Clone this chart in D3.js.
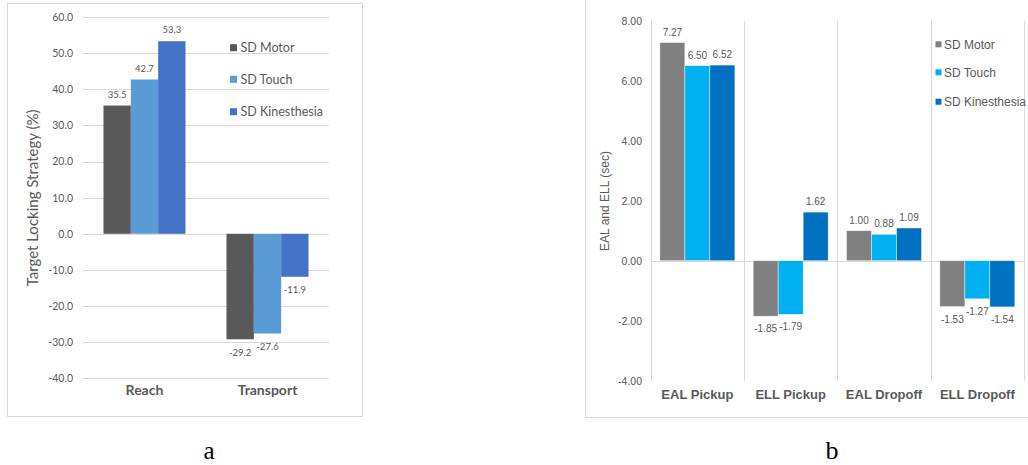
<!DOCTYPE html>
<html>
<head>
<meta charset="utf-8">
<script src="https://cdn.jsdelivr.net/npm/d3@7"></script>
<style>
  html, body { margin: 0; padding: 0; background: #fff; }
  svg { display: block; }
</style>
</head>
<body>
<svg id="chart" width="1028" height="465"></svg>
<script>
// ---------- Data: chart a ----------
const catsA = ["Reach", "Transport"];
const seriesNames = ["SD Motor", "SD Touch", "SD Kinesthesia"];
const motorA = [35.5, -29.2];
const touchA = [42.7, -27.6];
const kinA = [53.3, -11.9];
const ticksA = [60, 50, 40, 30, 20, 10, 0, -10, -20, -30, -40];
const yTitleA = "Target Locking Strategy (%)";

// ---------- Data: chart b ----------
const catsB = ["EAL Pickup", "ELL Pickup", "EAL Dropoff", "ELL Dropoff"];
const motorB = [7.27, -1.85, 1.00, -1.53];
const touchB = [6.50, -1.79, 0.88, -1.27];
const kinB = [6.52, 1.62, 1.09, -1.54];
const ticksB = [8, 6, 4, 2, 0, -2, -4];
const yTitleB = "EAL and ELL (sec)";

const colorsA = ["#595959", "#5B9BD5", "#4472C4"];
const colorsB = ["#808080", "#00B0F0", "#0070C0"];
const textCol = "#595959";
const gridCol = "#d9d9d9";

const fmt1 = v => d3.format(".1f")(v).replace("\u2212", "-");
const fmt2 = v => d3.format(".2f")(v).replace("\u2212", "-");

const svg = d3.select("#chart");

// ================= Chart a =================
(function () {
  const fontA = "Lato, 'Open Sans', sans-serif";
  const g = svg.append("g");
  g.append("rect").attr("x", 7.5).attr("y", 3.5).attr("width", 355).attr("height", 413)
    .attr("fill", "none").attr("stroke", gridCol).attr("stroke-width", 1);

  const y = d3.scaleLinear().domain([-40, 60]).range([378.3, 17]);
  const x = d3.scaleBand().domain(catsA).range([83, 329]).paddingInner(0).paddingOuter(0);
  const xs = d3.scaleBand().domain(seriesNames).range([0, x.bandwidth()]).paddingInner(0).paddingOuter(0.75);

  g.append("g").selectAll("line").data(ticksA).join("line")
    .attr("x1", 83).attr("x2", 329)
    .attr("y1", d => Math.round(y(d)) + 0.5).attr("y2", d => Math.round(y(d)) + 0.5)
    .attr("stroke", gridCol).attr("stroke-width", 1);

  const yAxis = d3.axisLeft(y).tickValues(ticksA).tickSize(0).tickPadding(0).tickFormat(fmt1);
  const ya = g.append("g").attr("transform", "translate(73,0)").call(yAxis);
  ya.select(".domain").remove();
  ya.selectAll("text").attr("fill", textCol).style("font-family", fontA).style("font-size", "10.5px");

  g.append("text").attr("transform", "translate(38,198) rotate(-90)")
    .attr("text-anchor", "middle").attr("fill", textCol)
    .style("font-family", fontA).style("font-size", "15px").text(yTitleA);

  const data = [motorA, touchA, kinA];
  data.forEach((vals, si) => {
    const sg = g.append("g");
    sg.selectAll("rect").data(vals).join("rect")
      .attr("x", (d, i) => x(catsA[i]) + xs(seriesNames[si]))
      .attr("width", xs.bandwidth())
      .attr("y", d => y(Math.max(0, d)))
      .attr("height", d => Math.abs(y(d) - y(0)))
      .attr("fill", colorsA[si]);
    sg.selectAll("text").data(vals).join("text")
      .attr("x", (d, i) => x(catsA[i]) + xs(seriesNames[si]) + xs.bandwidth() / 2)
      .attr("y", d => d >= 0 ? y(d) - 8 : y(d) + 16.5)
      .attr("text-anchor", "middle").attr("fill", textCol)
      .style("font-family", fontA).style("font-size", "9.5px")
      .text(d => fmt1(d));
  });

  g.append("g").selectAll("text").data(catsA).join("text")
    .attr("x", d => x(d) + x.bandwidth() / 2).attr("y", 395)
    .attr("text-anchor", "middle").attr("fill", textCol)
    .style("font-family", fontA).style("font-size", "14px").style("font-weight", "bold")
    .text(d => d);

  const ly = [47.7, 79.3, 111.7];
  const lg = g.append("g");
  seriesNames.forEach((s, i) => {
    lg.append("rect").attr("x", 230).attr("y", ly[i] - 3.5).attr("width", 7).attr("height", 7).attr("fill", colorsA[i]);
    lg.append("text").attr("x", 240.5).attr("y", ly[i] + 4.5).attr("fill", textCol)
      .style("font-family", fontA).style("font-size", "12.5px").text(s);
  });

  svg.append("text").attr("x", 209).attr("y", 459).attr("text-anchor", "middle")
    .style("font-family", "'Liberation Serif', 'DejaVu Serif', serif").style("font-size", "25px")
    .attr("fill", "#000").text("a");
})();

// ================= Chart b =================
(function () {
  const fontB = "'Liberation Sans', Arial, sans-serif";
  const g = svg.append("g");
  g.append("rect").attr("x", 585.5).attr("y", -5).attr("width", 460).attr("height", 422.5)
    .attr("fill", "none").attr("stroke", gridCol).attr("stroke-width", 1);

  const y = d3.scaleLinear().domain([-4, 8]).range([380.7, 20.7]);
  const x = d3.scaleBand().domain(catsB).range([650.7, 1024]).paddingInner(0).paddingOuter(0);
  const xs = d3.scaleBand().domain(seriesNames).range([0, x.bandwidth()]).paddingInner(0).paddingOuter(0.367);

  const seps = catsB.map(c => x(c)).concat([x(catsB[catsB.length - 1]) + x.bandwidth()]);
  g.append("g").selectAll("line").data(seps).join("line")
    .attr("x1", d => Math.round(d) + 0.5).attr("x2", d => Math.round(d) + 0.5)
    .attr("y1", y(8)).attr("y2", y(-4))
    .attr("stroke", gridCol).attr("stroke-width", 1);
  g.append("line").attr("x1", 650.7).attr("x2", 1024)
    .attr("y1", Math.round(y(0)) + 0.5).attr("y2", Math.round(y(0)) + 0.5)
    .attr("stroke", gridCol).attr("stroke-width", 1);

  const yAxis = d3.axisLeft(y).tickValues(ticksB).tickSize(0).tickPadding(0).tickFormat(fmt2);
  const ya = g.append("g").attr("transform", "translate(642,0)").call(yAxis);
  ya.select(".domain").remove();
  ya.selectAll("text").attr("fill", textCol).style("font-family", fontB).style("font-size", "10.5px");

  g.append("text").attr("transform", "translate(609,201) rotate(-90)")
    .attr("text-anchor", "middle").attr("fill", textCol)
    .style("font-family", fontB).style("font-size", "12px").text(yTitleB);

  const data = [motorB, touchB, kinB];
  data.forEach((vals, si) => {
    const sg = g.append("g");
    sg.selectAll("rect").data(vals).join("rect")
      .attr("x", (d, i) => x(catsB[i]) + xs(seriesNames[si]))
      .attr("width", xs.bandwidth())
      .attr("y", d => y(Math.max(0, d)))
      .attr("height", d => Math.abs(y(d) - y(0)))
      .attr("fill", colorsB[si])
      .attr("stroke", "#ffffff").attr("stroke-opacity", 0.6).attr("stroke-width", 0.7);
    sg.selectAll("text").data(vals).join("text")
      .attr("x", (d, i) => x(catsB[i]) + xs(seriesNames[si]) + xs.bandwidth() / 2)
      .attr("y", d => d >= 0 ? y(d) - 7 : y(d) + 16)
      .attr("text-anchor", "middle").attr("fill", textCol)
      .style("font-family", fontB).style("font-size", "10px")
      .text(d => fmt2(d));
  });

  g.append("g").selectAll("text").data(catsB).join("text")
    .attr("x", d => x(d) + x.bandwidth() / 2).attr("y", 399)
    .attr("text-anchor", "middle").attr("fill", textCol)
    .style("font-family", fontB).style("font-size", "13px").style("font-weight", "bold")
    .text(d => d);

  const ly = [44.3, 72.3, 101.7];
  seriesNames.forEach((s, i) => {
    g.append("rect").attr("x", 935.5).attr("y", ly[i] - 3).attr("width", 6).attr("height", 6).attr("fill", colorsB[i]);
    g.append("text").attr("x", 944).attr("y", ly[i] + 4.5).attr("fill", textCol)
      .style("font-family", fontB).style("font-size", "12px").text(s);
  });

  svg.append("text").attr("x", 832).attr("y", 459).attr("text-anchor", "middle")
    .style("font-family", "'Liberation Serif', 'DejaVu Serif', serif").style("font-size", "26px")
    .attr("fill", "#000").text("b");
})();
</script>
</body>
</html>
